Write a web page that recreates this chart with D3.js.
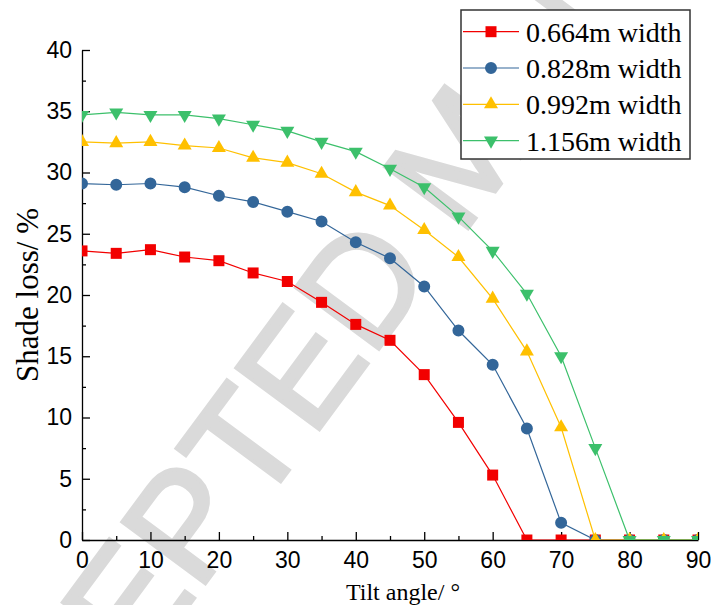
<!DOCTYPE html>
<html lang="en">
<head>
    <meta charset="UTF-8">
    <script src="https://cdn.jsdelivr.net/npm/d3@7"></script>
    <title>Shade loss</title>
    <style>
        body { margin: 0; background: white; }
        .tick text { font-family: "Liberation Sans", Arial, sans-serif; font-size: 23px; fill: black; }
        .axis path, .axis line { stroke: black; stroke-width: 1.3px; }
        .title { font-family: "Liberation Serif", "Times New Roman", serif; fill: black; }
    </style>
</head>
<body>
    <div id="chart"></div>
    <script>
        // tilt angles and shade loss (%) for each panel width
        const angles = [0, 5, 10, 15, 20, 25, 30, 35, 40, 45, 50, 55, 60, 65, 70, 75, 80, 85, 90];
        const w664 = [23.6, 23.4, 23.7, 23.1, 22.8, 21.8, 21.1, 19.4, 17.6, 16.3, 13.5, 9.6, 5.3, 0, 0, 0, 0, 0, 0];
        const w828 = [29.1, 29.0, 29.1, 28.8, 28.1, 27.6, 26.8, 26.0, 24.3, 23.0, 20.7, 17.1, 14.3, 9.1, 1.4, 0, 0, 0, 0];
        const w992 = [32.5, 32.4, 32.5, 32.2, 32.0, 31.2, 30.8, 29.9, 28.4, 27.3, 25.3, 23.1, 19.7, 15.4, 9.2, 0, 0, 0, 0];
        const w1156 = [34.7, 34.9, 34.7, 34.7, 34.4, 33.9, 33.4, 32.5, 31.7, 30.3, 28.8, 26.4, 23.6, 20.1, 15.0, 7.5, 0, 0, 0];

        const seriesNames = ["0.664m width", "0.828m width", "0.992m width", "1.156m width"];
        const seriesColors = ["#f20000", "#336699", "#ffc000", "#3cc06b"];
        const seriesShapes = ["square", "circle", "up", "down"];
        const seriesValues = [w664, w828, w992, w1156];

        const xTicks = [0, 10, 20, 30, 40, 50, 60, 70, 80, 90];
        const yTicks = [0, 5, 10, 15, 20, 25, 30, 35, 40];

        const width = 711, height = 605;
        const margin = { left: 82, right: 13, top: 50, bottom: 65 };

        const svg = d3.select("#chart").append("svg")
            .attr("width", width)
            .attr("height", height);

        const x = d3.scaleLinear().domain([0, 90]).range([margin.left, width - margin.right]);
        const y = d3.scaleLinear().domain([0, 40]).range([height - margin.bottom, margin.top]);

        // watermark
        svg.append("text")
            .attr("transform", "translate(-50,928) rotate(-53.5)")
            .style("font-family", "'Liberation Sans', Arial, sans-serif")
            .style("font-size", "150px")
            .style("fill", "#dadada")
            .style("stroke", "#dadada")
            .style("stroke-width", "4px")
            .text("ACCEPTED MANUSCRIPT");

        // axes
        svg.append("g").attr("class", "axis")
            .attr("transform", `translate(0,${y(0)})`)
            .call(d3.axisBottom(x).tickValues(xTicks).tickSizeInner(-8).tickSizeOuter(0).tickPadding(12));
        svg.append("g").attr("class", "axis")
            .attr("transform", `translate(0,${y(0)})`)
            .call(d3.axisBottom(x).tickValues(d3.range(5, 90, 10)).tickSizeInner(-4).tickSizeOuter(0).tickFormat(""))
            .select(".domain").remove();

        svg.append("g").attr("class", "axis")
            .attr("transform", `translate(${x(0)},0)`)
            .call(d3.axisLeft(y).tickValues(yTicks).tickSizeInner(-8).tickSizeOuter(0).tickPadding(10));
        svg.append("g").attr("class", "axis")
            .attr("transform", `translate(${x(0)},0)`)
            .call(d3.axisLeft(y).tickValues(d3.range(2.5, 40, 5)).tickSizeInner(-4).tickSizeOuter(0).tickFormat(""))
            .select(".domain").remove();

        // axis titles
        svg.append("text").attr("class", "title")
            .attr("x", 403).attr("y", 600)
            .attr("text-anchor", "middle")
            .style("font-size", "24px")
            .text("Tilt angle/ °");
        svg.append("text").attr("class", "title")
            .attr("transform", `translate(38,${(y(0) + y(40)) / 2}) rotate(-90)`)
            .attr("text-anchor", "middle")
            .style("font-size", "31px")
            .text("Shade loss/ %");

        // plot clip
        svg.append("clipPath").attr("id", "plot-clip")
            .append("rect")
            .attr("x", x(0)).attr("y", y(40))
            .attr("width", x(90) - x(0)).attr("height", y(0) - y(40));

        const symbolFor = shape => {
            if (shape === "square") return d3.symbol().type(d3.symbolSquare).size(121);
            if (shape === "circle") return d3.symbol().type(d3.symbolCircle).size(113);
            return d3.symbol().type(d3.symbolTriangle).size(85);
        };
        const markerTransform = (shape, px, py) => shape === "down"
            ? `translate(${px},${py}) rotate(180)` : `translate(${px},${py})`;

        const plot = svg.append("g").attr("clip-path", "url(#plot-clip)");
        const line = d3.line().x((d, i) => x(angles[i])).y(d => y(d));

        seriesValues.forEach((vals, s) => {
            const g = plot.append("g");
            g.append("path")
                .attr("d", line(vals))
                .attr("fill", "none")
                .attr("stroke", seriesColors[s])
                .attr("stroke-width", 1.2);
            g.selectAll("path.marker")
                .data(vals)
                .enter()
                .append("path")
                .attr("class", "marker")
                .attr("d", symbolFor(seriesShapes[s]))
                .attr("transform", (d, i) => markerTransform(seriesShapes[s], x(angles[i]), y(d)))
                .attr("fill", seriesColors[s]);
        });

        // legend
        const legend = svg.append("g");
        legend.append("rect")
            .attr("x", 461).attr("y", 10)
            .attr("width", 229).attr("height", 149)
            .attr("fill", "white")
            .attr("stroke", "#333")
            .attr("stroke-width", 1.5);
        seriesNames.forEach((name, s) => {
            const ly = 31.7 + s * 36.3;
            legend.append("line")
                .attr("x1", 463).attr("x2", 519)
                .attr("y1", ly).attr("y2", ly)
                .attr("stroke", seriesColors[s])
                .attr("stroke-width", 1.2);
            legend.append("path")
                .attr("d", symbolFor(seriesShapes[s]))
                .attr("transform", markerTransform(seriesShapes[s], 491, ly))
                .attr("fill", seriesColors[s]);
            legend.append("text").attr("class", "title")
                .attr("x", 526).attr("y", ly + 10)
                .style("font-size", "28px")
                .text(name);
        });
    </script>
</body>
</html>
